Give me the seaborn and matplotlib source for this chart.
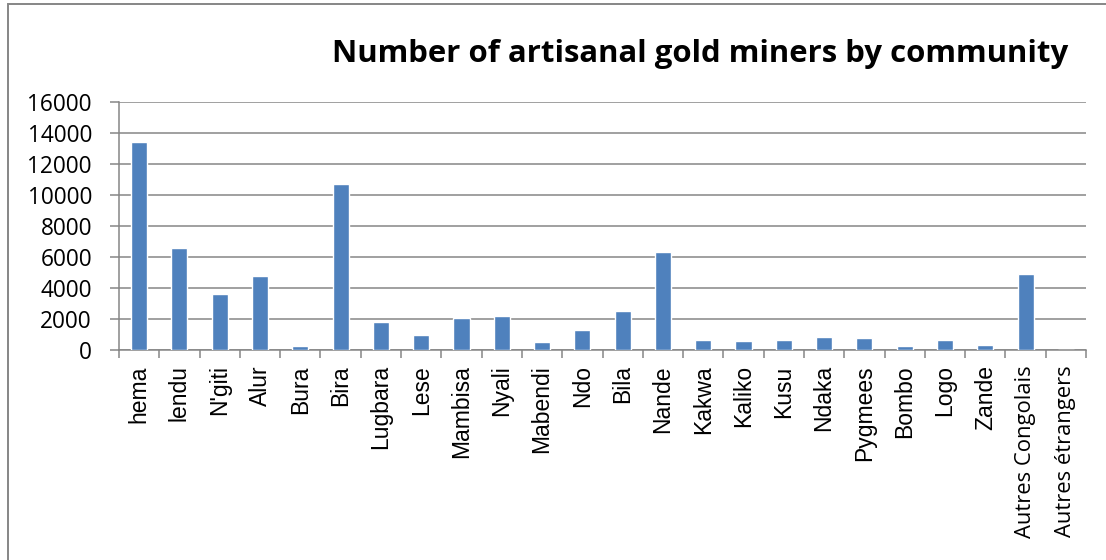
import matplotlib
matplotlib.use("Agg")
import matplotlib.pyplot as plt
import seaborn as sns
import pandas as pd
from matplotlib.patches import Rectangle
from matplotlib.ticker import FixedLocator, NullFormatter

communities = ["hema", "lendu", "N'giti", "Alur", "Bura", "Bira", "Lugbara", "Lese",
               "Mambisa", "Nyali", "Mabendi", "Ndo", "Bila", "Nande", "Kakwa", "Kaliko",
               "Kusu", "Ndaka", "Pygmees", "Bombo", "Logo", "Zande",
               "Autres Congolais", "Autres étrangers"]
miners = [13400, 6550, 3630, 4770, 280, 10700, 1825, 970,
          2060, 2170, 500, 1290, 2510, 6300, 625, 580,
          645, 820, 795, 260, 645, 320,
          4880, 0]
y_ticks = [0, 2000, 4000, 6000, 8000, 10000, 12000, 14000, 16000]

df = pd.DataFrame({"community": communities, "miners": miners})

sns.set_style("white")
plt.rcParams["font.family"] = ["Liberation Sans", "DejaVu Sans"]
plt.rcParams["text.color"] = "black"
plt.rcParams["xtick.color"] = "black"
plt.rcParams["ytick.color"] = "black"

grey = "#868686"
fig = plt.figure(figsize=(11.06, 5.6), dpi=100)
ax = fig.add_axes([119 / 1106, 1 - 350 / 560, (1086 - 119) / 1106, (350 - 101.7) / 560])

sns.barplot(data=df, x="community", y="miners", color="#4F81BD", width=0.4,
            saturation=1, ax=ax, zorder=3)

ax.set_xlim(-0.5, len(communities) - 0.5)
ax.set_ylim(0, 16000)
ax.set_yticks(y_ticks)
ax.set_yticklabels([str(v) for v in y_ticks], fontsize=16.3,
                   family=["Open Sans", "DejaVu Sans"])
ax.yaxis.grid(True, color=grey, linewidth=1.1, zorder=0)
ax.set_axisbelow(True)
ax.set_xlabel("")
ax.set_ylabel("")

ax.tick_params(axis="y", which="major", length=6.5, width=1.1, color=grey, pad=13,
               left=True, direction="out", labelcolor="black")
ax.set_xticks(range(len(communities)))
ax.set_xticklabels(communities, rotation=90, fontsize=16.5, va="top", ha="center")
for lab in ax.get_xticklabels():
    if lab.get_text().startswith("Autres"):
        lab.set_family(["Open Sans", "DejaVu Sans"])
        lab.set_fontsize(15.8)
ax.tick_params(axis="x", which="major", length=0, pad=11, labelcolor="black")
ax.xaxis.set_minor_locator(FixedLocator([i - 0.5 for i in range(len(communities) + 1)]))
ax.xaxis.set_minor_formatter(NullFormatter())
ax.tick_params(axis="x", which="minor", length=5.8, width=1.1, color=grey,
               bottom=True, direction="out")

for side in ("top", "right"):
    ax.spines[side].set_visible(False)
for side in ("left", "bottom"):
    ax.spines[side].set_color(grey)
    ax.spines[side].set_linewidth(1.1)

fig.text(1068 / 1106, 1 - 54 / 560, "Number of artisanal gold miners by community",
         ha="right", va="center", fontsize=22.4, fontweight="bold", color="black",
         family=["Open Sans", "DejaVu Sans"])

fig.patches.append(Rectangle((8 / 1106, -0.1), 1.2, 1.1 - 4 / 560,
                             transform=fig.transFigure, fill=False,
                             edgecolor=grey, linewidth=1.4, zorder=0))

fig.savefig("out.png", dpi=100, facecolor="white")
